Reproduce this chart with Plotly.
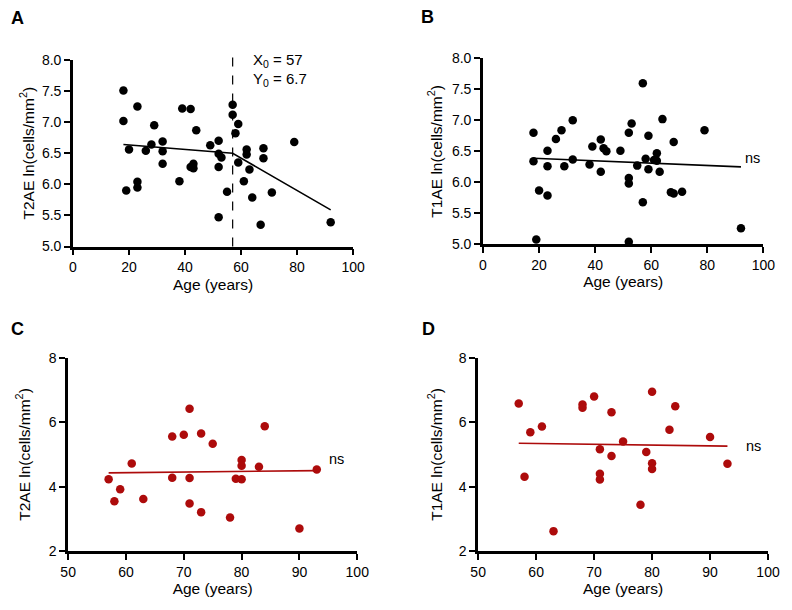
import plotly.graph_objects as go

# ---------------- data ----------------
# Panel A: T2AE vs age (all ages)
a_age = [18, 18, 23, 29, 20, 26, 28, 32, 32, 32, 19, 23, 23, 38, 39, 42, 44, 43, 42, 43,
         49, 52, 52, 53, 52, 55, 52, 57, 57, 59, 58, 59, 61, 62, 62, 63, 64, 68, 68, 67, 71, 79, 92]
a_val = [7.51, 7.02, 7.25, 6.95, 6.56, 6.54, 6.64, 6.69, 6.53, 6.33, 5.90, 6.04, 5.95, 6.05, 7.22, 7.21, 6.87, 6.33, 6.28, 6.26,
         6.63, 6.70, 6.49, 6.43, 6.28, 5.88, 5.47, 7.28, 7.12, 6.97, 6.82, 6.35, 6.05, 6.56, 6.48, 6.24, 5.79, 6.58, 6.42, 5.35, 5.87, 6.68, 5.39]
a_fit_x = [18, 57, 92]
a_fit_y = [6.64, 6.50, 5.59]
a_break_x = 57

# Panel B: T1AE vs age (all ages)
b_age = [18, 18, 20, 23, 19, 23, 23, 26, 28, 29, 32, 32, 38, 39, 42, 43, 44, 42, 49, 52, 53,
         52, 52, 55, 57, 57, 58, 59, 59, 61, 62, 62, 63, 64, 68, 67, 68, 71, 79, 92, 52]
b_val = [6.80, 6.34, 5.87, 5.79, 5.08, 6.51, 6.26, 6.70, 6.84, 6.26, 7.00, 6.37, 6.29, 6.58, 6.69, 6.55, 6.50, 6.17, 6.51, 6.80, 6.95,
         6.07, 5.98, 6.27, 7.60, 5.68, 6.38, 6.75, 6.21, 6.36, 6.47, 6.35, 6.17, 7.02, 6.65, 5.84, 5.82, 5.85, 6.84, 5.26, 5.04]
b_fit_x = [18, 92]
b_fit_y = [6.39, 6.25]

# Panel C: T2AE vs age (older)
c_age = [57, 58, 59, 61, 63, 68, 68, 70, 71, 71, 71, 73, 73, 75, 78, 79, 80, 80, 80, 83, 84, 90, 93]
c_val = [4.23, 3.55, 3.92, 4.72, 3.62, 5.56, 4.28, 5.61, 6.42, 4.27, 3.48, 5.65, 3.21, 5.33, 3.04, 4.25, 4.23, 4.83, 4.65, 4.62, 5.88, 2.70, 4.53]
c_fit_x = [57, 93]
c_fit_y = [4.43, 4.50]

# Panel D: T1AE vs age (older)
d_age = [57, 58, 59, 61, 63, 68, 68, 70, 71, 71, 71, 73, 73, 75, 78, 79, 80, 80, 80, 83, 84, 90, 93]
d_val = [6.58, 4.31, 5.69, 5.87, 2.62, 6.55, 6.45, 6.80, 5.16, 4.40, 4.22, 6.31, 4.95, 5.40, 3.44, 5.08, 6.95, 4.73, 4.55, 5.77, 6.50, 5.54, 4.71]
d_fit_x = [57, 93]
d_fit_y = [5.35, 5.26]

ticks_ab_x = [0, 20, 40, 60, 80, 100]
ticks_ab_y = [5.0, 5.5, 6.0, 6.5, 7.0, 7.5, 8.0]
ticks_cd_x = [50, 60, 70, 80, 90, 100]
ticks_cd_y = [2, 4, 6, 8]

# ---------------- figure ----------------
BLACK = "black"
RED = "#AD0B0B"
FONT = "Liberation Sans, Arial, sans-serif"

fig = go.Figure()

def scatter(x, y, color, xa, ya):
    fig.add_trace(go.Scatter(x=x, y=y, mode="markers", xaxis=xa, yaxis=ya,
                             marker=dict(size=8.5, color=color), cliponaxis=False,
                             showlegend=False, hoverinfo="skip"))

def line(x, y, color, xa, ya):
    fig.add_trace(go.Scatter(x=x, y=y, mode="lines", xaxis=xa, yaxis=ya,
                             line=dict(color=color, width=1.6), showlegend=False,
                             hoverinfo="skip"))

scatter(a_age, a_val, BLACK, "x", "y")
line(a_fit_x, a_fit_y, BLACK, "x", "y")
scatter(b_age, b_val, BLACK, "x2", "y2")
line(b_fit_x, b_fit_y, BLACK, "x2", "y2")
scatter(c_age, c_val, RED, "x3", "y3")
line(c_fit_x, c_fit_y, RED, "x3", "y3")
scatter(d_age, d_val, RED, "x4", "y4")
line(d_fit_x, d_fit_y, RED, "x4", "y4")

def xaxis(domain, anchor, rng, tickvals):
    return dict(domain=domain, anchor=anchor, range=rng, tickvals=tickvals,
                showline=True, linecolor=BLACK, linewidth=2.6, ticks="outside",
                ticklen=6, tickwidth=2.2, tickcolor=BLACK, showgrid=False, zeroline=False,
                tickfont=dict(size=14, color=BLACK, family=FONT),
                title=dict(text="Age (years)", font=dict(size=15.5, color=BLACK, family=FONT), standoff=5))

def yaxis(domain, anchor, rng, tickvals, title, fmt, standoff):
    return dict(domain=domain, anchor=anchor, range=rng, tickvals=tickvals, tickformat=fmt,
                showline=True, linecolor=BLACK, linewidth=2.6, ticks="outside",
                ticklen=6, tickwidth=2.2, tickcolor=BLACK, showgrid=False, zeroline=False,
                tickfont=dict(size=14, color=BLACK, family=FONT),
                title=dict(text=title, font=dict(size=15.5, color=BLACK, family=FONT), standoff=standoff))

t2 = "T2AE ln(cells/mm<sup>2</sup>)"
t1 = "T1AE ln(cells/mm<sup>2</sup>)"

fig.update_layout(
    width=792, height=610, autosize=False,
    margin=dict(l=0, r=0, t=0, b=0),
    paper_bgcolor="white", plot_bgcolor="white",
    font=dict(family=FONT, color=BLACK),
    xaxis=xaxis([0.0842, 0.4470], "y", [0, 100], ticks_ab_x),
    yaxis=yaxis([0.5984, 0.9126], "x", [5, 8], ticks_ab_y, t2, ".1f", 4),
    xaxis2=xaxis([0.6153, 0.9785], "y2", [0, 100], ticks_ab_x),
    yaxis2=yaxis([0.6021, 0.9152], "x2", [5, 8], ticks_ab_y, t1, ".1f", 6),
    xaxis3=xaxis([0.0779, 0.4524], "y3", [50, 100], ticks_cd_x),
    yaxis3=yaxis([0.0857, 0.4110], "x3", [2, 8], ticks_cd_y, t2, "d", 15),
    xaxis4=xaxis([0.6090, 0.9845], "y4", [50, 100], ticks_cd_x),
    yaxis4=yaxis([0.0857, 0.4110], "x4", [2, 8], ticks_cd_y, t1, "d", 13),
)

# breakpoint dashed line in panel A
fig.add_shape(type="line", xref="x", yref="paper", x0=a_break_x, x1=a_break_x,
              y0=0.5984, y1=1 - 45 / 610, line=dict(color=BLACK, width=1.2, dash="dash"))

ann = []
ann.append(dict(text="X<sub>0</sub> = 57", xref="paper", yref="paper", x=249 / 792, y=1 - 54 / 610,
                xanchor="left", yanchor="middle", showarrow=False, font=dict(size=15, color=BLACK, family=FONT)))
ann.append(dict(text="Y<sub>0</sub> = 6.7", xref="paper", yref="paper", x=249 / 792, y=1 - 73 / 610,
                xanchor="left", yanchor="middle", showarrow=False, font=dict(size=15, color=BLACK, family=FONT)))
for txt, x, y in [("ns", 754, 154), ("ns", 327, 463), ("ns", 755, 450)]:
    ann.append(dict(text=txt, xref="paper", yref="paper", x=x / 792, y=1 - y / 610,
                    xanchor="left", yanchor="middle", showarrow=False, font=dict(size=14.5, color=BLACK, family=FONT)))
for txt, x, y in [("A", 1, 10), ("B", 422, 9), ("C", 1, 330), ("D", 423, 330)]:
    ann.append(dict(text="<b>" + txt + "</b>", xref="paper", yref="paper", x=x / 792, y=1 - y / 610,
                    xanchor="left", yanchor="middle", showarrow=False, font=dict(size=18, color=BLACK, family=FONT)))
fig.update_layout(annotations=ann)

post = (
    "document.body.style.margin='0';document.body.style.overflow='hidden';"
)

fig.write_html("out.html", config={"displayModeBar": False}, post_script=post)
